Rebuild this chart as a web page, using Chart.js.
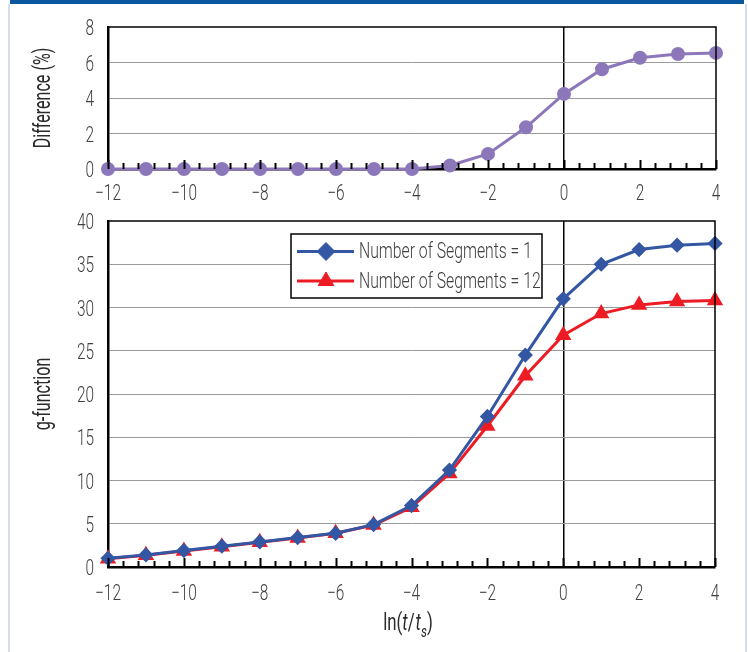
<!DOCTYPE html>
<html>
<head>
<meta charset="utf-8">
<script src="https://cdn.jsdelivr.net/npm/chart.js@4/dist/chart.umd.min.js"></script>
<style>
  html, body { margin: 0; padding: 0; background: #fff; }
  #page { position: relative; width: 748px; height: 652px; overflow: hidden; }
  #topBar { position: absolute; left: 10px; top: 0; width: 734px; height: 4px; background: #0a57a0; }
  .side { position: absolute; top: 4px; width: 2px; height: 648px; background: #d6dbf0; }
  #wrapTop { position: absolute; left: 0; top: 0; width: 748px; height: 210px; }
  #wrapBottom { position: absolute; left: 0; top: 210px; width: 748px; height: 442px; }
</style>
</head>
<body>
<div id="page">
  <div id="topBar"></div>
  <div class="side" style="left:8px"></div>
  <div class="side" style="left:745px"></div>
  <div id="wrapTop"><canvas id="diffChart"></canvas></div>
  <div id="wrapBottom"><canvas id="gChart"></canvas></div>
</div>
<script>
// values
let lnT = [-12, -11, -10, -9, -8, -7, -6, -5, -4, -3, -2, -1, 0, 1, 2, 3, 4];
let diffPct = [0, 0, 0, 0, 0, 0, 0, 0, 0, 0.2, 0.85, 2.35, 4.23, 5.62, 6.27, 6.48, 6.54];
let gSeg1 = [1.0, 1.4, 1.9, 2.4, 2.9, 3.4, 3.9, 4.9, 7.1, 11.2, 17.4, 24.5, 31.0, 35.0, 36.7, 37.2, 37.4];
let gSeg12 = [0.95, 1.35, 1.85, 2.35, 2.85, 3.35, 3.9, 4.85, 6.9, 10.8, 16.3, 22.1, 26.8, 29.3, 30.3, 30.7, 30.8];
let seriesLabels = ['Number of Segments = 1', 'Number of Segments = 12'];
let xTitle = ['ln(', 't', '/', 't', 's', ')'];

const FONT = "Roboto, 'Liberation Sans', sans-serif";
const TEXT = '#404040';
const SX = 0.7; // the original uses a condensed face, so squeeze the text

function pts(ys) {
  return lnT.map((x, i) => ({ x: x, y: ys[i] }));
}

function minusFmt(v) {
  return v < 0 ? '\u2212' + Math.abs(v) : String(v);
}

// draw condensed text
function narrow(ctx, text, x, y, o) {
  ctx.save();
  ctx.translate(x, y);
  if (o.rotate) ctx.rotate(-Math.PI / 2);
  ctx.scale(SX, 1);
  ctx.font = (o.italic ? 'italic ' : '') + (o.weight || 300) + ' ' + o.size + 'px ' + FONT;
  ctx.fillStyle = o.color || TEXT;
  ctx.textAlign = o.align || 'left';
  ctx.textBaseline = o.baseline || 'alphabetic';
  ctx.fillText(text, 0, 0);
  let w = ctx.measureText(text).width * SX;
  ctx.restore();
  return w;
}

function narrowWidth(ctx, text, size, italic, weight) {
  ctx.save();
  ctx.font = (italic ? 'italic ' : '') + (weight || 300) + ' ' + size + 'px ' + FONT;
  let w = ctx.measureText(text).width * SX;
  ctx.restore();
  return w;
}

// frame on top/right, inward ticks, tick labels and y title
const axisDecor = {
  id: 'axisDecor',
  afterDatasetsDraw(chart, args, opts) {
    const { ctx, chartArea: a, scales } = chart;
    const xs = scales.x, ys = scales.y;
    ctx.save();
    ctx.strokeStyle = '#000';
    ctx.lineWidth = 1.5;
    ctx.beginPath();
    ctx.moveTo(a.left, a.top);
    ctx.lineTo(a.right, a.top);
    ctx.lineTo(a.right, a.bottom);
    ctx.stroke();
    ctx.lineWidth = 2;
    for (let i = 0; i <= 40; i++) {
      let v = xs.min + i * 0.4;
      let px = Math.round(xs.getPixelForValue(v)) + 0.5;
      let major = i % 5 === 0;
      ctx.beginPath();
      ctx.moveTo(px, a.bottom);
      ctx.lineTo(px, a.bottom - (major ? 9 : 6));
      ctx.stroke();
    }
    ctx.restore();

    xs.ticks.forEach(t => {
      narrow(ctx, minusFmt(t.value), xs.getPixelForValue(t.value), a.bottom + opts.xLabelDrop,
        { size: 22, align: 'center' });
    });
    ys.ticks.forEach(t => {
      narrow(ctx, String(t.value), a.left - 14, ys.getPixelForValue(t.value) + 8,
        { size: 22, align: 'right' });
    });
    narrow(ctx, opts.yTitle, 44, (a.top + a.bottom) / 2,
      { size: 23, weight: 400, color: '#2a2a2a', align: 'center', baseline: 'middle', rotate: true });
  }
};

// legend box with line + marker samples
const lineLegend = {
  id: 'lineLegend',
  afterDraw(chart) {
    const { ctx } = chart;
    const box = { l: 291, t: 24, r: 542, b: 88 };
    ctx.save();
    ctx.fillStyle = '#fff';
    ctx.fillRect(box.l, box.t, box.r - box.l, box.b - box.t);
    ctx.strokeStyle = '#000';
    ctx.lineWidth = 1.5;
    ctx.strokeRect(box.l, box.t, box.r - box.l, box.b - box.t);
    chart.data.datasets.forEach((ds, i) => {
      let y = 41.5 + i * 29.5;
      ctx.strokeStyle = ds.borderColor;
      ctx.lineWidth = 3;
      ctx.beginPath();
      ctx.moveTo(297, y);
      ctx.lineTo(354, y);
      ctx.stroke();
      ctx.fillStyle = ds.pointBackgroundColor;
      ctx.strokeStyle = ds.pointBorderColor;
      ctx.lineWidth = 1;
      Chart.helpers.drawPoint(ctx, {
        pointStyle: ds.pointStyle,
        radius: 9,
        borderWidth: 1,
        rotation: 0
      }, 326, y);
      narrow(ctx, ds.label, 359, y + 6.5, { size: 22.5 });
    });
    ctx.restore();
  }
};

// x axis title with italic t and subscript s
const xTitlePlugin = {
  id: 'xTitlePlugin',
  afterDraw(chart) {
    const { ctx } = chart;
    const italic = [false, true, false, true, true, false];
    const sizes = [24, 24, 24, 24, 17, 24];
    const shifts = [0, 0, 0, 0, 7, 0];
    let widths = xTitle.map((s, i) => narrowWidth(ctx, s, sizes[i], italic[i], 400) + (i === 2 ? 1 : 0));
    let total = widths.reduce((p, c) => p + c, 0);
    let x = 408 - total / 2;
    xTitle.forEach((s, i) => {
      narrow(ctx, s, x, 420 + shifts[i], { size: sizes[i], italic: italic[i], weight: 400, color: '#2a2a2a' });
      x += widths[i];
    });
  }
};

function makeOptions(cfg) {
  return {
    responsive: false,
    animation: false,
    layout: { padding: { left: 0, right: cfg.padRight, top: cfg.padTop, bottom: 0 } },
    plugins: {
      legend: { display: false },
      tooltip: { enabled: false },
      axisDecor: { xLabelDrop: cfg.xLabelDrop, yTitle: cfg.yTitle }
    },
    scales: {
      x: {
        type: 'linear',
        min: -12,
        max: 4,
        afterFit: s => { s.height = cfg.xHeight; },
        ticks: { stepSize: 2, display: false },
        grid: {
          drawTicks: false,
          color: c => (c.tick && c.tick.value === 0 ? '#000' : 'rgba(0,0,0,0)'),
          lineWidth: 1.5
        },
        border: { color: '#000', width: 2.5 }
      },
      y: {
        min: 0,
        max: cfg.yMax,
        afterFit: s => { s.width = 108; },
        ticks: { stepSize: cfg.yStep, display: false },
        grid: {
          drawTicks: false,
          color: c => (c.tick && (c.tick.value === 0 || c.tick.value === cfg.yMax) ? 'rgba(0,0,0,0)' : '#9a9a9a'),
          lineWidth: 1
        },
        border: { color: '#000', width: 2.5 }
      }
    }
  };
}

function makeCanvas(id, w, h) {
  let c = document.getElementById(id);
  c.width = w;
  c.height = h;
  c.style.width = w + 'px';
  c.style.height = h + 'px';
  return c.getContext('2d');
}

let diffChart = new Chart(makeCanvas('diffChart', 748, 210), {
  type: 'line',
  data: {
    datasets: [{
      label: 'Difference',
      data: pts(diffPct),
      borderColor: '#8b77ba',
      backgroundColor: '#8b77ba',
      pointBackgroundColor: '#8b77ba',
      pointBorderColor: '#8b77ba',
      borderWidth: 3,
      pointRadius: 5.5,
      pointStyle: 'circle',
      tension: 0,
      clip: false
    }]
  },
  options: makeOptions({ padRight: 32, padTop: 27, xHeight: 41, xLabelDrop: 31, yMax: 8, yStep: 2, yTitle: 'Difference (%)' }),
  plugins: [axisDecor]
});

let gChart = new Chart(makeCanvas('gChart', 748, 442), {
  type: 'line',
  data: {
    datasets: [{
      label: seriesLabels[0],
      data: pts(gSeg1),
      borderColor: '#3457a4',
      backgroundColor: '#3457a4',
      pointBackgroundColor: '#3457a4',
      pointBorderColor: '#3457a4',
      borderWidth: 3,
      pointRadius: 5.5,
      pointStyle: 'rectRot',
      tension: 0,
      clip: false
    }, {
      label: seriesLabels[1],
      data: pts(gSeg12),
      borderColor: '#ed1c24',
      backgroundColor: '#ed1c24',
      pointBackgroundColor: '#ed1c24',
      pointBorderColor: '#ed1c24',
      borderWidth: 3,
      pointRadius: 6.5,
      pointStyle: 'triangle',
      tension: 0,
      clip: false
    }]
  },
  options: makeOptions({ padRight: 33, padTop: 11, xHeight: 85, xLabelDrop: 33, yMax: 40, yStep: 5, yTitle: 'g-function' }),
  plugins: [axisDecor, lineLegend, xTitlePlugin]
});
</script>
</body>
</html>
